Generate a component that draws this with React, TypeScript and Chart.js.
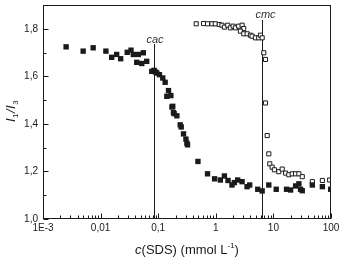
import React, { useEffect, useRef } from "react";
import { Chart, registerables } from "chart.js";

Chart.register(...registerables);

const xTickValues = [0.001, 0.01, 0.1, 1, 10, 100];
const xTickLabels = ["1E-3", "0,01", "0,1", "1", "10", "100"];
const yTickValues = [1.0, 1.2, 1.4, 1.6, 1.8];
const yTickLabels = ["1,0", "1,2", "1,4", "1,6", "1,8"];
const yMinorValues = [1.1, 1.3, 1.5, 1.7];

const cacValue = 0.085;
const cmcValue = 6.45;

const filledX = [
  0.00252, 0.00498, 0.00743, 0.01236, 0.01556, 0.019, 0.0223, 0.029, 0.0337, 0.037, 0.0452, 0.0552,
  0.0424, 0.0518, 0.0632, 0.0774, 0.085, 0.0946, 0.105, 0.09, 0.12, 0.132, 0.151, 0.141, 0.166, 0.173,
  0.179, 0.184, 0.189, 0.211, 0.241, 0.251, 0.275, 0.303, 0.315, 0.323, 0.49, 0.719, 0.953, 1.2, 1.41,
  1.63, 1.91, 2.1, 2.4, 2.86, 3.49, 3.88, 5.35, 6.38, 8.32, 11.2, 16.9, 19.9, 24.3, 27.7, 29.6, 31.7,
  47.4, 70.8, 98.9,
];
const filledY = [
  1.724, 1.706, 1.72, 1.706, 1.68, 1.692, 1.674, 1.701, 1.71, 1.692, 1.692, 1.699,
  1.659, 1.654, 1.663, 1.621, 1.625, 1.614, 1.607, 1.618, 1.593, 1.575, 1.54, 1.516, 1.519, 1.471,
  1.474, 1.448, 1.443, 1.434, 1.396, 1.387, 1.358, 1.336, 1.319, 1.312, 1.242, 1.19, 1.169, 1.164, 1.181,
  1.162, 1.143, 1.153, 1.164, 1.157, 1.136, 1.143, 1.125, 1.118, 1.143, 1.125, 1.125, 1.122, 1.139, 1.148,
  1.125, 1.119, 1.143, 1.136, 1.125,
];

const openX = [
  0.457, 0.612, 0.719, 0.859, 0.98, 1.15, 1.28, 1.41, 1.61, 1.79, 2.0, 2.19, 2.5, 2.86, 3.05, 2.67, 3.05,
  3.5, 3.99, 4.27, 4.88, 5.57, 5.96, 6.38, 6.81, 7.28, 7.28, 7.8, 8.32, 8.65, 9.52, 10.4, 12.4, 14.2,
  16.3, 18.5, 21.2, 24.3, 27.7, 31.7, 47.4, 70.8, 94.8,
];
const openY = [
  1.821, 1.822, 1.821, 1.821, 1.821, 1.818, 1.815, 1.807, 1.815, 1.804, 1.811, 1.804, 1.811, 1.815, 1.801,
  1.79, 1.779, 1.779, 1.773, 1.769, 1.762, 1.762, 1.773, 1.762, 1.699, 1.671, 1.488, 1.351, 1.274, 1.232,
  1.218, 1.207, 1.199, 1.21, 1.193, 1.186, 1.19, 1.19, 1.19, 1.178, 1.157, 1.162, 1.164,
];

const FONT = "'Liberation Sans', Arial, sans-serif";
const INK = "#1a1a1a";

const decorPlugin = {
  id: "decor",
  beforeDatasetsDraw(chart: any) {
    const { ctx, chartArea } = chart;
    const xs = chart.scales.x;
    ctx.save();
    ctx.strokeStyle = INK;
    ctx.lineWidth = 1;
    const cx = Math.round(xs.getPixelForValue(cacValue)) + 0.5;
    const mx = Math.round(xs.getPixelForValue(cmcValue)) + 0.5;
    ctx.beginPath();
    ctx.moveTo(cx, 44);
    ctx.lineTo(cx, chartArea.bottom);
    ctx.moveTo(mx, 20);
    ctx.lineTo(mx, chartArea.bottom);
    ctx.stroke();
    ctx.fillStyle = "#333";
    ctx.font = `italic 11px ${FONT}`;
    ctx.textAlign = "center";
    ctx.textBaseline = "alphabetic";
    ctx.fillText("cac", cx + 0.5, 42.5);
    ctx.fillText("cmc", mx + 3, 18);
    ctx.restore();
  },
  afterDraw(chart: any) {
    const { ctx, chartArea } = chart;
    const xs = chart.scales.x;
    const ys = chart.scales.y;
    const L = Math.round(chartArea.left) + 0.5;
    const R = Math.round(chartArea.right) - 0.5;
    const T = Math.round(chartArea.top) + 0.5;
    const B = Math.round(chartArea.bottom) - 0.5;
    ctx.save();
    ctx.strokeStyle = INK;
    ctx.lineWidth = 1;
    ctx.strokeRect(L, T, R - L, B - T);
    ctx.beginPath();
    yTickValues.forEach((v) => {
      const y = Math.round(ys.getPixelForValue(v)) + 0.5;
      ctx.moveTo(L, y);
      ctx.lineTo(L + 5, y);
    });
    yMinorValues.forEach((v) => {
      const y = Math.round(ys.getPixelForValue(v)) + 0.5;
      ctx.moveTo(L, y);
      ctx.lineTo(L + 3, y);
    });
    xTickValues.forEach((v) => {
      const x = Math.round(xs.getPixelForValue(v)) + 0.5;
      ctx.moveTo(x, B);
      ctx.lineTo(x, B - 5);
    });
    for (let d = 0; d < xTickValues.length - 1; d++) {
      for (let k = 2; k <= 9; k++) {
        const v = xTickValues[d] * k;
        const x = Math.round(xs.getPixelForValue(v)) + 0.5;
        ctx.moveTo(x, B);
        ctx.lineTo(x, B - 3);
      }
    }
    ctx.stroke();

    // x title: c(SDS) (mmol L^-1)
    ctx.fillStyle = INK;
    ctx.textBaseline = "alphabetic";
    ctx.textAlign = "left";
    const base = 254;
    const parts: [string, string, number][] = [
      ["c", `italic 13px ${FONT}`, 0],
      ["(SDS) (mmol L", `13px ${FONT}`, 0],
      ["-1", `8px ${FONT}`, -6],
      [")", `13px ${FONT}`, 0],
    ];
    let total = 0;
    parts.forEach(([t, f]) => {
      ctx.font = f;
      total += ctx.measureText(t).width;
    });
    let x = 187 - total / 2;
    parts.forEach(([t, f, dy]) => {
      ctx.font = f;
      ctx.fillText(t, x, base + dy);
      x += ctx.measureText(t).width;
    });

    // y title: I1/I3 rotated
    ctx.save();
    ctx.translate(15, 111);
    ctx.rotate(-Math.PI / 2);
    const yparts: [string, string, number][] = [
      ["I", `italic 13px ${FONT}`, 0],
      ["1", `8px ${FONT}`, 3],
      ["/", `italic 13px ${FONT}`, 0],
      ["I", `italic 13px ${FONT}`, 0],
      ["3", `8px ${FONT}`, 3],
    ];
    let yt = 0;
    yparts.forEach(([t, f]) => {
      ctx.font = f;
      yt += ctx.measureText(t).width + 0.5;
    });
    let px = -yt / 2;
    yparts.forEach(([t, f, dy]) => {
      ctx.font = f;
      ctx.fillText(t, px, dy);
      px += ctx.measureText(t).width + 0.5;
    });
    ctx.restore();
    ctx.restore();
  },
};

export default function App() {
  const ref = useRef<HTMLCanvasElement | null>(null);
  useEffect(() => {
    if (!ref.current) return;
    const chart = new Chart(ref.current, {
      type: "scatter",
      data: {
        datasets: [
          {
            label: "filled",
            data: filledX.map((v, i) => ({ x: v, y: filledY[i] })),
            pointStyle: "rect",
            pointRadius: 3.8,
            backgroundColor: INK,
            borderColor: INK,
            borderWidth: 0,
          },
          {
            label: "open",
            data: openX.map((v, i) => ({ x: v, y: openY[i] })),
            pointStyle: "rect",
            pointRadius: 2.9,
            backgroundColor: "#ffffff",
            borderColor: INK,
            borderWidth: 1,
          },
        ],
      },
      options: {
        animation: false,
        responsive: false,
        devicePixelRatio: 1,
        layout: { padding: { left: 0, right: 9, top: 5, bottom: 0 } },
        plugins: { legend: { display: false }, tooltip: { enabled: false } },
        scales: {
          x: {
            type: "logarithmic",
            min: 0.001,
            max: 100,
            grid: { display: false, drawTicks: false },
            border: { display: false },
            afterBuildTicks: (s: any) => {
              s.ticks = xTickValues.map((v) => ({ value: v, major: true }));
            },
            afterFit: (s: any) => {
              s.height = 42;
              s.paddingLeft = 0;
              s.paddingRight = 0;
              s.paddingTop = 0;
              s.paddingBottom = 0;
            },
            ticks: {
              autoSkip: false,
              maxRotation: 0,
              padding: 3,
              color: INK,
              font: { family: FONT, size: 10 },
              callback: (v: any) => {
                const i = xTickValues.findIndex((t) => Math.abs(t - Number(v)) / t < 1e-6);
                return i >= 0 ? xTickLabels[i] : "";
              },
            },
          },
          y: {
            type: "linear",
            min: 1.0,
            max: 1.9,
            grid: { display: false, drawTicks: false },
            border: { display: false },
            afterBuildTicks: (s: any) => {
              s.ticks = yTickValues.map((v) => ({ value: v }));
            },
            afterFit: (s: any) => {
              s.width = 43;
              s.paddingLeft = 0;
              s.paddingRight = 0;
              s.paddingTop = 0;
              s.paddingBottom = 0;
            },
            ticks: {
              autoSkip: false,
              padding: 5,
              color: INK,
              font: { family: FONT, size: 10 },
              callback: (v: any) => {
                const i = yTickValues.findIndex((t) => Math.abs(t - Number(v)) < 1e-6);
                return i >= 0 ? yTickLabels[i] : "";
              },
            },
          },
        },
      },
      plugins: [decorPlugin],
    });
    return () => chart.destroy();
  }, []);
  return (
    <div style={{ position: "absolute", left: 0, top: 0, width: 340, height: 261, background: "#fff" }}>
      <canvas ref={ref} width={340} height={261} style={{ display: "block" }} />
    </div>
  );
}
